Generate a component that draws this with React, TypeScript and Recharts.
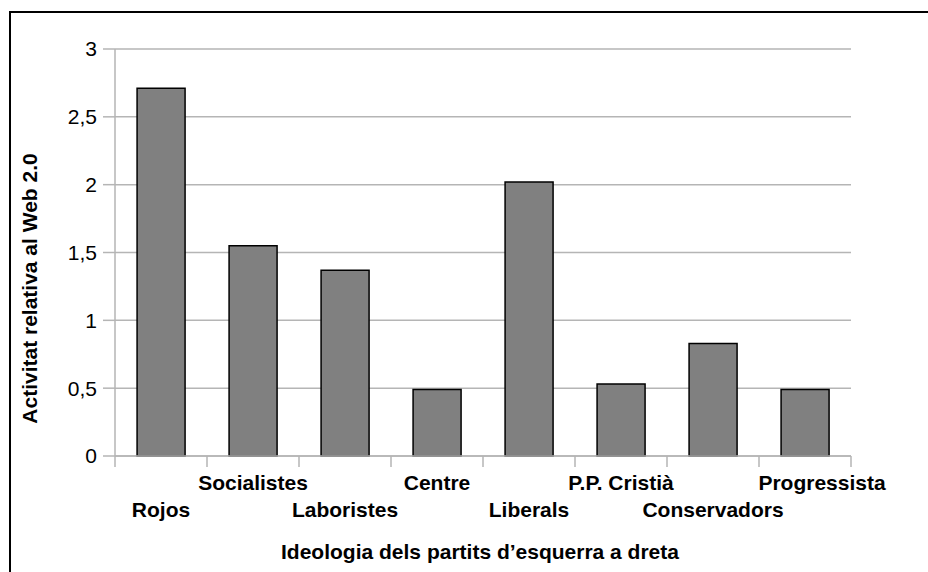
import { BarChart, Bar, XAxis, YAxis, CartesianGrid, Label } from 'recharts';

// Relative Web 2.0 activity by party, ordered left to right
const categories = [
  'Rojos',
  'Socialistes',
  'Laboristes',
  'Centre',
  'Liberals',
  'P.P. Cristià',
  'Conservadors',
  'Progressista',
];
const activity = [2.71, 1.55, 1.37, 0.49, 2.02, 0.53, 0.83, 0.49];
const yTicks = [0, 0.5, 1, 1.5, 2, 2.5, 3];

const data = categories.map((party, i) => ({ party, activity: activity[i] }));

const FONT = '"Liberation Sans", Arial, Helvetica, sans-serif';
const GRID = '#b5b5b5';

// Excel-style category axis: tick marks sit between bars, labels alternate rows
function PartyTick(props: any) {
  const { x, y, payload, index } = props;
  const half = payload.offset || 46;
  const lower = index % 2 === 0;
  const last = index === categories.length - 1;
  return (
    <g>
      <line x1={x - half} x2={x - half} y1={y} y2={y + 11} stroke={GRID} strokeWidth={1.5} />
      {last && (
        <line x1={x + half} x2={x + half} y1={y} y2={y + 11} stroke={GRID} strokeWidth={1.5} />
      )}
      <text
        x={x + (last ? 17 : 0)}
        y={y + (lower ? 61 : 34)}
        textAnchor="middle"
        fontFamily={FONT}
        fontWeight="bold"
        fontSize={21}
        fill="#000"
      >
        {payload.value}
      </text>
    </g>
  );
}

export default function App() {
  return (
    <div
      style={{
        position: 'absolute',
        left: 0,
        top: 0,
        width: 928,
        height: 572,
        overflow: 'hidden',
        background: '#fff',
      }}
    >
      <div
        style={{
          position: 'absolute',
          left: 9,
          top: 11,
          width: 1000,
          height: 1000,
          borderTop: '2px solid #000',
          borderLeft: '2px solid #000',
        }}
      />
      <BarChart
        width={928}
        height={572}
        data={data}
        margin={{ top: 49, right: 77, left: 0, bottom: 0 }}
        barCategoryGap="24%"
      >
        <CartesianGrid vertical={false} stroke={GRID} strokeWidth={1.5} />
        <XAxis
          dataKey="party"
          height={116}
          interval={0}
          tickLine={false}
          tickSize={0}
          tickMargin={0}
          axisLine={{ stroke: GRID, strokeWidth: 1.5 }}
          tick={<PartyTick />}
        >
          <Label
            content={({ viewBox }: any) => (
              <text
                x={viewBox.x + viewBox.width / 2 - 3}
                y={viewBox.y + 103}
                textAnchor="middle"
                fontFamily={FONT}
                fontWeight="bold"
                fontSize={21}
                fill="#000"
              >
                Ideologia dels partits d’esquerra a dreta
              </text>
            )}
          />
        </XAxis>
        <YAxis
          width={115}
          domain={[0, 3]}
          ticks={yTicks}
          interval={0}
          tickSize={12}
          tickMargin={6}
          tickFormatter={(v: number) => String(v).replace('.', ',')}
          tick={{ fontFamily: FONT, fontSize: 21, fill: '#000' }}
          tickLine={{ stroke: GRID, strokeWidth: 1.5 }}
          axisLine={{ stroke: GRID, strokeWidth: 1.5 }}
        >
          <Label
            content={({ viewBox }: any) => (
              <text
                transform={`translate(${viewBox.x + 37},${viewBox.y + viewBox.height / 2 + 36}) rotate(-90)`}
                textAnchor="middle"
                fontFamily={FONT}
                fontWeight="bold"
                fontSize={21}
                fill="#000"
              >
                Activitat relativa al Web 2.0
              </text>
            )}
          />
        </YAxis>
        <YAxis
          yAxisId="frame"
          orientation="right"
          width={0}
          domain={[0, 3]}
          tick={false}
          tickLine={false}
          axisLine={{ stroke: GRID, strokeWidth: 1.5 }}
        />
        <Bar
          dataKey="activity"
          fill="#808080"
          stroke="#000"
          strokeWidth={1.5}
          isAnimationActive={false}
        />
      </BarChart>
    </div>
  );
}
